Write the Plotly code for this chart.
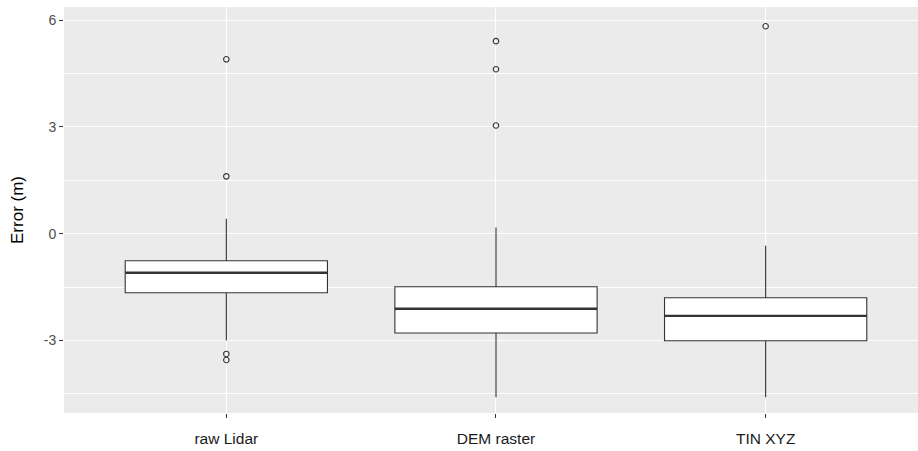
import plotly.graph_objects as go

categories = ["raw Lidar", "DEM raster", "TIN XYZ"]
q1 = [-1.66, -2.79, -3.01]
median = [-1.10, -2.11, -2.31]
q3 = [-0.76, -1.49, -1.80]
lower_fence = [-3.00, -4.60, -4.60]
upper_fence = [0.42, 0.17, -0.34]
outlier_cat = ["raw Lidar", "raw Lidar", "raw Lidar", "raw Lidar",
               "DEM raster", "DEM raster", "DEM raster", "TIN XYZ"]
outlier_val = [4.90, 1.61, -3.38, -3.55, 5.41, 4.62, 3.04, 5.83]
y_ticks = [-3, 0, 3, 6]
y_minor = [-4.5, -1.5, 1.5, 4.5]

pos = {c: i + 1 for i, c in enumerate(categories)}
box_w = 0.75
dark = "#333333"

fig = go.Figure()
for i, c in enumerate(categories):
    fig.add_trace(go.Box(
        x=[pos[c]], q1=[q1[i]], median=[median[i]], q3=[q3[i]],
        lowerfence=[lower_fence[i]], upperfence=[upper_fence[i]],
        width=box_w, fillcolor="white", line=dict(color=dark, width=1.1),
        whiskerwidth=0, boxpoints=False, showlegend=False, hoverinfo="skip",
    ))
    # thicker median line (ggplot fatten)
    fig.add_trace(go.Scatter(
        x=[pos[c] - box_w / 2, pos[c] + box_w / 2], y=[median[i], median[i]],
        mode="lines", line=dict(color=dark, width=2.4), showlegend=False,
        hoverinfo="skip",
    ))

fig.add_trace(go.Scatter(
    x=[pos[c] for c in outlier_cat], y=outlier_val, mode="markers",
    marker=dict(symbol="circle-open", size=5.5, color=dark, line=dict(width=1.1)),
    showlegend=False, hoverinfo="skip",
))

fig.update_layout(
    width=918, height=451,
    margin=dict(l=64, r=0, t=7, b=38),
    paper_bgcolor="white", plot_bgcolor="#EBEBEB",
    font=dict(family="Liberation Sans, Arial, sans-serif", color="#4D4D4D"),
    xaxis=dict(
        range=[0.398, 3.565], tickmode="array", automargin=False,
        tickvals=[pos[c] for c in categories], ticktext=categories,
        showgrid=True, gridcolor="white", gridwidth=1.1,
        ticks="outside", ticklen=4, tickcolor=dark, tickwidth=1,
        ticklabelstandoff=7,
        tickfont=dict(size=15.5, color="#1a1a1a"), zeroline=False, showline=False,
    ),
    yaxis=dict(
        range=[-5.04, 6.37], tickmode="array", automargin=False,
        tickvals=y_ticks, ticktext=[str(v) for v in y_ticks],
        showgrid=True, gridcolor="white", gridwidth=1.1,
        minor=dict(tickmode="array", tickvals=y_minor, showgrid=True,
                   gridcolor="white", gridwidth=0.6, ticks=""),
        ticks="outside", ticklen=4, tickcolor=dark, tickwidth=1,
        tickfont=dict(size=14, color="#4D4D4D"), zeroline=False, showline=False,
        title=dict(text="Error (m)", font=dict(size=17, color="black")),
    ),
)

fig.write_html("out.html", config={"displayModeBar": False},
               post_script="document.body.style.margin='0';document.body.style.overflow='hidden';")
